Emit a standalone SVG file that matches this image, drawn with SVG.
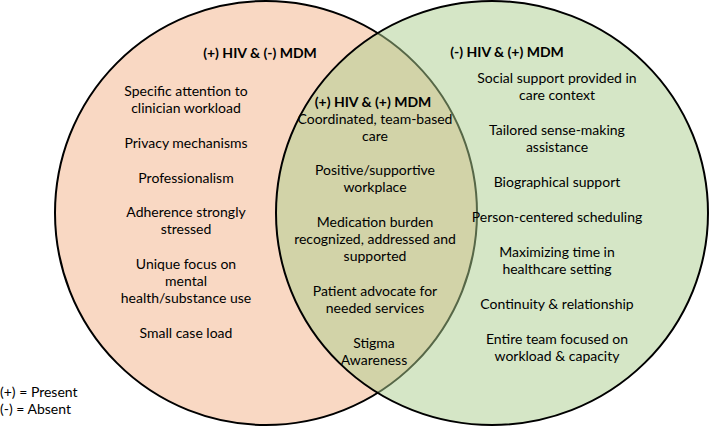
<svg xmlns="http://www.w3.org/2000/svg" width="709" height="427" viewBox="0 0 709 427">
<style>
text{font-family:"Lato","Liberation Sans",sans-serif;font-size:14px;fill:#000;text-anchor:middle}
.h{font-weight:bold}
.l{text-anchor:start}
.c{stroke:#000;stroke-width:2}
</style>
<rect width="709" height="427" fill="#fff"/>
<g id="set-hiv">
<ellipse class="c" cx="266" cy="213" rx="211" ry="212" fill="#F9D8C3"/>
</g>
<g id="set-mdm">
<ellipse class="c" cx="492" cy="213" rx="216" ry="212" fill="#ABCE8D" fill-opacity="0.5"/>
</g>
<g id="connectors"></g>
<g id="hiv-only">
<text class="h" x="260" y="58">(+) HIV &amp; (-) MDM</text>
<text x="186" y="96">Specific attention to</text>
<text x="186" y="113">clinician workload</text>
<text x="186" y="148">Privacy mechanisms</text>
<text x="186" y="183">Professionalism</text>
<text x="186" y="217">Adherence strongly</text>
<text x="186" y="234">stressed</text>
<text x="186" y="269">Unique focus on</text>
<text x="186" y="286">mental</text>
<text x="186" y="303">health/substance use</text>
<text x="186" y="338">Small case load</text>
</g>
<g id="both">
<text class="h" x="373" y="107">(+) HIV &amp; (+) MDM</text>
<text x="375" y="124">Coordinated, team-based</text>
<text x="375" y="141">care</text>
<text x="375" y="175">Positive/supportive</text>
<text x="375" y="192">workplace</text>
<text x="375" y="227">Medication burden</text>
<text x="375" y="244">recognized, addressed and</text>
<text x="375" y="261">supported</text>
<text x="375" y="296">Patient advocate for</text>
<text x="375" y="313">needed services</text>
<text x="374" y="348">Stigma</text>
<text x="374" y="365">Awareness</text>
</g>
<g id="mdm-only">
<text class="h" x="507" y="57">(-) HIV &amp; (+) MDM</text>
<text x="557" y="83">Social support provided in</text>
<text x="557" y="100">care context</text>
<text x="557" y="135">Tailored sense-making</text>
<text x="557" y="152">assistance</text>
<text x="557" y="187">Biographical support</text>
<text x="557" y="222">Person-centered scheduling</text>
<text x="557" y="257">Maximizing time in</text>
<text x="557" y="274">healthcare setting</text>
<text x="557" y="309">Continuity &amp; relationship</text>
<text x="557" y="344">Entire team focused on</text>
<text x="557" y="361">workload &amp; capacity</text>
</g>
<g id="legend">
<text class="l" x="0" y="397">(+) = Present</text>
<text class="l" x="0" y="414">(-) = Absent</text>
</g>
</svg>
